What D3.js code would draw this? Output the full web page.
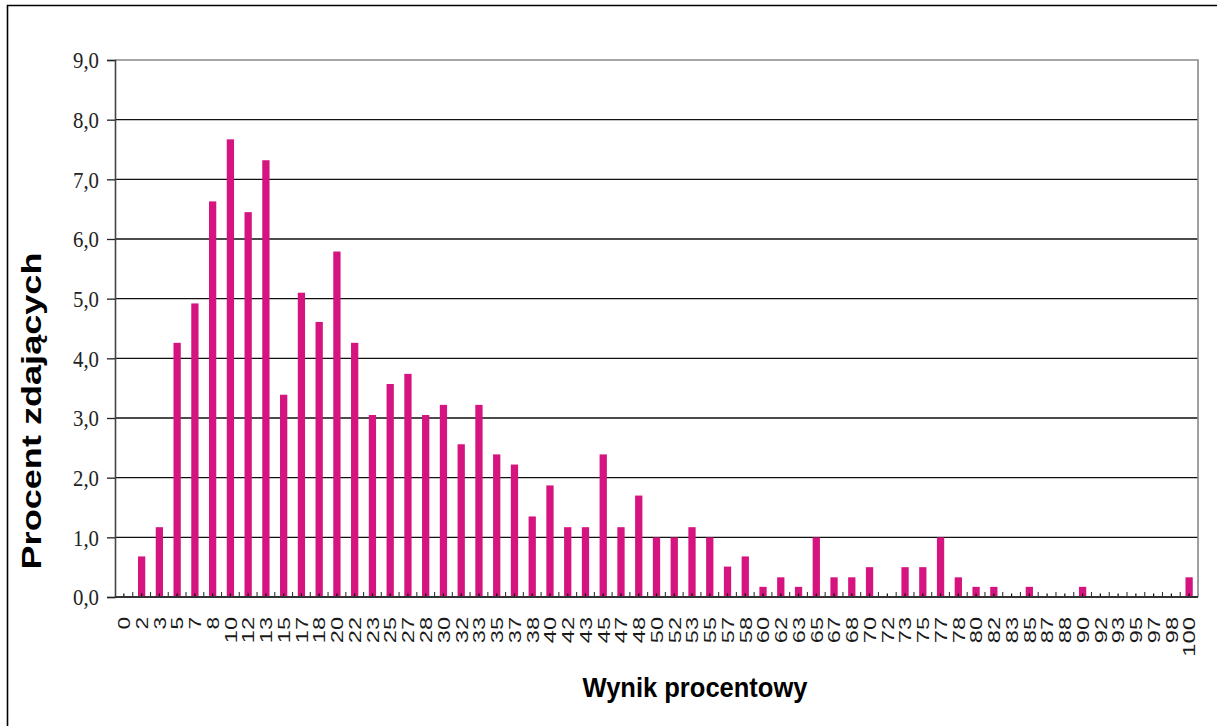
<!DOCTYPE html>
<html>
<head>
<meta charset="utf-8">
<script src="https://cdn.jsdelivr.net/npm/d3@7"></script>
<style>
  html, body { margin: 0; padding: 0; background: #fff; }
  svg { display: block; }
</style>
</head>
<body>
<svg id="chart" width="1217" height="726"></svg>
<script>
// Categories (score in percent)
const categories = ["0","2","3","5","7","8","10","12","13","15","17","18","20","22","23","25","27","28",
  "30","32","33","35","37","38","40","42","43","45","47","48","50","52","53","55","57","58",
  "60","62","63","65","67","68","70","72","73","75","77","78","80","82","83","85","87","88",
  "90","92","93","95","97","98","100"];
// Percent of test-takers
const values = [0,0.68,1.17,4.26,4.92,6.63,7.67,6.45,7.32,3.39,5.10,4.61,5.79,4.26,3.05,3.57,3.74,3.05,
  3.22,2.56,3.22,2.39,2.22,1.35,1.87,1.17,1.17,2.39,1.17,1.70,1.00,1.00,1.17,1.00,0.51,0.68,
  0.17,0.33,0.17,1.00,0.33,0.33,0.50,0,0.50,0.50,1.00,0.33,0.17,0.17,0,0.17,0,0,
  0.17,0,0,0,0,0,0.33];
const yTicks = [0,1,2,3,4,5,6,7,8,9];
const yTitle = "Procent zdających";
const xTitle = "Wynik procentowy";

(function () {
const svg = d3.select("#chart");
const pLeft = 115, pRight = 1198, pTop = 60, pBottom = 597;

// outer frame (top and left edges)
svg.append("path")
  .attr("d", "M7.5,726 V5.5 H1217")
  .attr("fill", "none").attr("stroke", "#000").attr("stroke-width", 1.6);

const x = d3.scaleBand().domain(categories).range([pLeft, pRight])
  .paddingInner(0.59).paddingOuter(0.295);
const y = d3.scaleLinear().domain([0, 9]).range([pBottom, pTop]);

// gridlines
svg.append("g").selectAll("line").data(yTicks.filter(d => d > 0 && d < 9)).join("line")
  .attr("x1", pLeft).attr("x2", pRight)
  .attr("y1", d => y(d)).attr("y2", d => y(d))
  .attr("stroke", "#111").attr("stroke-width", 1.4);

// plot border (top & right, gray)
svg.append("path")
  .attr("d", `M${pLeft},${y(9)} H${pRight} V${pBottom}`)
  .attr("fill", "none").attr("stroke", "#8a8a8a").attr("stroke-width", 1.6);

// bars
svg.append("g").selectAll("rect").data(values).join("rect")
  .attr("x", (d, i) => x(categories[i]))
  .attr("width", x.bandwidth())
  .attr("y", d => y(d))
  .attr("height", d => y(0) - y(d))
  .attr("fill", "#d5147f");

// y axis
const yAxis = d3.axisLeft(y).tickValues(yTicks).tickSize(8).tickPadding(8)
  .tickFormat(d => d3.format(".1f")(d).replace(".", ","));
const gy = svg.append("g").attr("transform", `translate(${pLeft},0)`).call(yAxis);
gy.select(".domain").attr("stroke", "#444").attr("stroke-width", 1.6);
gy.selectAll(".tick line").attr("stroke", "#222").attr("stroke-width", 1.3);
gy.selectAll(".tick text")
  .attr("font-family", "'Liberation Serif', 'Times New Roman', serif")
  .attr("font-size", 24).attr("fill", "#222")
  .attr("textLength", 26).attr("lengthAdjust", "spacingAndGlyphs");

// x axis: ticks inside, at centers (short) and boundaries (taller)
const step = x.step();
const gx = svg.append("g");
gx.selectAll("line.c").data(categories).join("line").attr("class", "c")
  .attr("x1", d => x(d) + x.bandwidth() / 2).attr("x2", d => x(d) + x.bandwidth() / 2)
  .attr("y1", pBottom).attr("y2", pBottom - 3.5)
  .attr("stroke", "#000").attr("stroke-width", 1.2);
gx.selectAll("line.b").data(categories.slice(1)).join("line").attr("class", "b")
  .attr("x1", d => x(d) + x.bandwidth() / 2 - step / 2).attr("x2", d => x(d) + x.bandwidth() / 2 - step / 2)
  .attr("y1", pBottom).attr("y2", pBottom - 5)
  .attr("stroke", "#333").attr("stroke-width", 1.1);
gx.append("line").attr("x1", pLeft).attr("x2", pRight).attr("y1", pBottom).attr("y2", pBottom)
  .attr("stroke", "#333").attr("stroke-width", 2);

// x tick labels (rotated)
gx.selectAll("text").data(categories).join("text")
  .attr("transform", d => `translate(${x(d) + x.bandwidth() / 2},617) rotate(-90)`)
  .attr("text-anchor", "end").attr("dy", "0.37em")
  .attr("font-family", "'Liberation Sans', Arial, sans-serif")
  .attr("font-size", 17).attr("fill", "#1a1a1a")
  .attr("textLength", d => d.length * 13.6 - 1).attr("lengthAdjust", "spacingAndGlyphs")
  .text(d => d);

// axis titles
svg.append("text")
  .attr("x", 695).attr("y", 697).attr("text-anchor", "middle")
  .attr("font-family", "'Liberation Sans', Arial, sans-serif")
  .attr("font-weight", "bold").attr("font-size", 27).attr("fill", "#000")
  .attr("textLength", 225).attr("lengthAdjust", "spacingAndGlyphs")
  .text(xTitle);

svg.append("text")
  .attr("transform", "translate(41,411) rotate(-90)").attr("text-anchor", "middle")
  .attr("font-family", "'Liberation Sans', Arial, sans-serif")
  .attr("font-weight", "bold").attr("font-size", 27).attr("fill", "#000")
  .attr("textLength", 317).attr("lengthAdjust", "spacingAndGlyphs")
  .text(yTitle);
})();
</script>
</body>
</html>
